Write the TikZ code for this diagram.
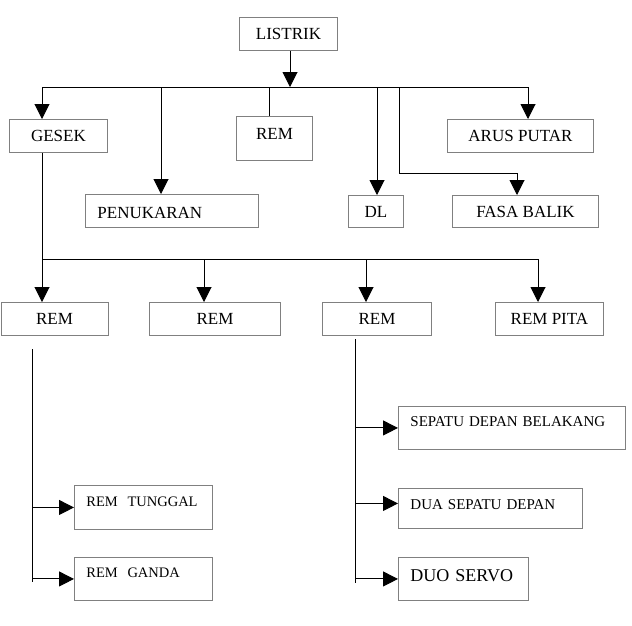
\documentclass[tikz,border=0pt]{standalone}
\usepackage{fontspec}
\setmainfont{Liberation Serif}
\usetikzlibrary{arrows.meta}

\definecolor{boxgray}{gray}{0.5}
\tikzset{
  box/.style={draw=boxgray, line width=0.9pt, anchor=north west, inner sep=0pt,
    font=\fontsize{17}{20}\selectfont},
  leaf/.style={box, align=left, inner xsep=12pt, inner ysep=0pt},
  arr/.style={-{Triangle[length=15pt,width=15pt]}},
  wire/.style={line width=1pt}
}

\begin{document}
\begin{tikzpicture}[x=1pt,y=-1pt]
    \useasboundingbox (0,0) rectangle (632,625);

      % Root
      \node[box, minimum width=98pt, minimum height=33pt] (listrik) at (239,17) {LISTRIK};

      % First level
      \node[box, minimum width=98pt, minimum height=33pt] (gesek) at (9,119) {GESEK};
      \node[box, minimum width=76pt, minimum height=44pt, text height=23pt, text depth=21pt] (rema) at (236,116) {REM};
      \node[box, minimum width=146pt, minimum height=33pt] (arus) at (447,119) {ARUS PUTAR};
      \node[leaf, text width=149pt, text height=24pt, text depth=9pt] (penukaran) at (85,194) {PENUKARAN};
      \node[box, minimum width=55pt, minimum height=32pt] (dl) at (348,195) {DL};
      \node[box, minimum width=146pt, minimum height=32pt] (fasa) at (452,195) {FASA BALIK};

      % Second level
      \node[box, minimum width=107pt, minimum height=33pt] (rem1) at (0.5,302) {REM};
      \node[box, minimum width=131pt, minimum height=33pt] (rem2) at (149,302) {REM};
      \node[box, minimum width=109pt, minimum height=33pt] (rem3) at (322,302) {REM};
      \node[box, minimum width=108pt, minimum height=33pt] (rempita) at (495,302) {REM PITA};

      % Leaves
      \node[leaf, font=\fontsize{14.5}{17}\selectfont, text width=114pt, text height=21pt, text depth=23pt] (tunggal) at (74,485) {REM~~TUNGGAL};
      \node[leaf, font=\fontsize{14.5}{17}\selectfont, text width=114pt, text height=20pt, text depth=23pt] (ganda) at (74,557) {REM~~GANDA};
      \node[leaf, font=\fontsize{15}{18}\selectfont, text width=203pt, text height=20pt, text depth=23pt] (sepatu) at (398,406) {SEPATU~DEPAN~BELAKANG};
      \node[leaf, font=\fontsize{15}{18}\selectfont, text width=160pt, text height=21pt, text depth=19pt] (dua) at (398,488) {DUA~SEPATU~DEPAN};
      \node[leaf, font=\fontsize{18}{21}\selectfont, text width=106pt, text height=24pt, text depth=19pt] (duo) at (398,557) {DUO~SERVO};

      % Bus 1
      \coordinate (top) at (290,87);
      \coordinate (b1a) at (42,87);
      \coordinate (b1b) at (161,87);
      \coordinate (b1c) at (269,87);
      \coordinate (b1d) at (377,87);
      \coordinate (b1e) at (399,87);
      \coordinate (b1f) at (528,87);
      \coordinate (fasain) at (517,173);
      \draw[wire,arr] (listrik.south -| top) -- (top);
      \draw[wire] (b1a) -- (b1f);
      \draw[wire,arr] (b1a) -- (b1a |- gesek.north);
      \draw[wire,arr] (b1b) -- (b1b |- penukaran.north);
      \draw[wire] (b1c) -- (b1c |- rema.north);
      \draw[wire,arr] (b1d) -- (b1d |- dl.north);
      \draw[wire,arr] (b1e) |- (fasain) -- (fasain |- fasa.north);
      \draw[wire,arr] (b1f) -- (b1f |- arus.north);

      % Bus 2
      \coordinate (b2a) at (42,259);
      \coordinate (b2b) at (204,259);
      \coordinate (b2c) at (366,259);
      \coordinate (b2d) at (538,259);
      \draw[wire] (b1a |- gesek.south) -- (b2a) -- (b2d);
      \draw[wire,arr] (b2a) -- (b2a |- rem1.north);
      \draw[wire,arr] (b2b) -- (b2b |- rem2.north);
      \draw[wire,arr] (b2c) -- (b2c |- rem3.north);
      \draw[wire,arr] (b2d) -- (b2d |- rempita.north);

      % Left branch
      \coordinate (v1top) at (32,349);
      \coordinate (v1bot) at (32,582);
      \draw[wire] (v1top) -- (v1bot);
      \draw[wire,arr] (v1top |- tunggal.west) -- (tunggal.west);
      \draw[wire,arr] (v1top |- ganda.west) -- (ganda.west);

      % Right branch
      \coordinate (v2top) at (355,339);
      \coordinate (v2bot) at (355,583);
      \coordinate (duain) at ([yshift=5pt]dua.west);
      \draw[wire] (v2top) -- (v2bot);
      \draw[wire,arr] (v2top |- sepatu.west) -- (sepatu.west);
      \draw[wire,arr] (v2top |- duain) -- (duain);
      \draw[wire,arr] (v2top |- duo.west) -- (duo.west);
  \end{tikzpicture}
\end{document}
